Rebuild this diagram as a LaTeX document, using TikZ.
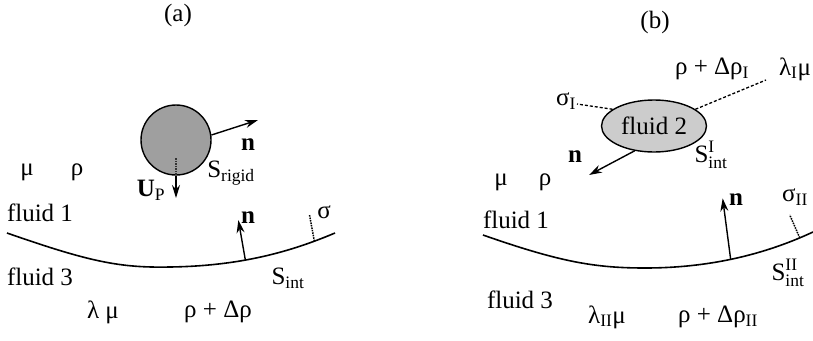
\documentclass[tikz,border=0pt]{standalone}
\usepackage{amsmath}
\usepackage{fontspec}
\setmainfont{Liberation Serif}
\usetikzlibrary{arrows.meta, shapes.geometric}

\newcommand{\sint}[1]{\(\text{S}^{\text{#1}}_{\text{int}}\)}

\begin{document}
\begin{tikzpicture}[
    x=1pt, y=-1pt,
    every node/.style={font=\fontsize{25}{29}\selectfont, inner sep=0pt},
    iface/.style={line width=1.6pt},
    arrow/.style={-{Stealth[length=13pt, width=8pt]}, line width=1.4pt},
    tick/.style={densely dotted, line width=1.5pt},
    link/.style={densely dashed, line width=1.3pt},
    particle/.style={circle, draw, line width=1.4pt, fill=gray!75, minimum size=70pt},
    drop/.style={ellipse, draw, line width=1.4pt, fill=gray!40, minimum width=105pt, minimum height=52pt}
]

\useasboundingbox (0,0) rectangle (813,340);

% ============ PANEL (a): rigid particle ============
\node (tita) at (178,15) {(a)};
\node[particle] (rigid) at (176,140) {};

% normal on particle
\coordinate (nrtip) at (258,120);
\draw[arrow] (rigid.8) -- (nrtip);
\node (nr) at (248,145) {\textbf{n}};

% particle velocity
\coordinate (upa) at (176,158);
\coordinate (uptip) at (176,198);
\draw[tick, white!20!black] (upa) -- (rigid.south);
\draw[arrow] (rigid.south) -- (uptip);
\node (up) at (151,190) {\textbf{U}\textsubscript{P}};
\node (srig) at (231,173) {S\textsubscript{rigid}};

% fluid 1 properties
\node (mua) at (27,172) {μ};
\node (rhoa) at (77,172) {ρ};
\node (f1a) at (40,213) {fluid 1};

% interface
\draw[iface] (7,233) .. controls (90,262) and (120,268) .. (170,267)
    .. controls (240,266) and (290,252) .. (335,233)
    coordinate[pos=0.4] (nia) coordinate[pos=0.85] (sga);
\path (nia) ++(-7,-40) coordinate (niatip);
\draw[arrow] (nia) -- (niatip);
\node (nna) at (248,218) {\textbf{n}};
\path (sga) ++(-5,-27) coordinate (sgatop);
\draw[tick] (sga) -- (sgatop);
\node (siga) at (324,212) {σ};
\node (sinta) at (288,278) {S\textsubscript{int}};

% fluid 3 properties
\node (f3a) at (40,277) {fluid 3};
\node (lama) at (103,312) {λ μ};
\node (drha) at (218,312) {ρ + Δρ};

% ============ PANEL (b): drop ============
\node (titb) at (655,22) {(b)};
\node[drop] (fl2) at (654,126) {fluid 2};

% drop labels
\coordinate (sgI) at (577,104);
\draw[link] (fl2.158) -- (sgI);
\node (sigI) at (566,101) {σ\textsubscript{I}};
\coordinate (prI) at (766,80);
\draw[link] (fl2.22) -- (prI);
\node (drhI) at (712,69) {ρ + Δρ\textsubscript{I}};
\node (lamI) at (795,69) {λ\textsubscript{I}μ};
\node (sintI) at (711,155) {\sint{I}};

% normal on drop
\coordinate (ndtip) at (589,175);
\draw[arrow] (fl2.232) -- (ndtip);
\node (nd) at (575,157) {\textbf{n}};

% fluid 1 properties
\node (mub) at (501,182) {μ};
\node (rhob) at (545,182) {ρ};
\node (f1b) at (516,220) {fluid 1};

% interface
\draw[iface] (483,235) .. controls (560,262) and (595,268) .. (645,268)
    .. controls (715,268) and (770,252) .. (813,232)
    coordinate[pos=0.45] (nib) coordinate[pos=0.9] (sgb);
\path (nib) ++(-8,-61) coordinate (nibtip);
\draw[arrow] (nib) -- (nibtip);
\node (nnb) at (736,200) {\textbf{n}};
\path (sgb) ++(-10,-23) coordinate (sgbtop);
\draw[tick] (sgb) -- (sgbtop);
\node (sigII) at (795,197) {σ\textsubscript{II}};
\node (sintII) at (788,273) {\sint{II}};

% fluid 3 properties
\node (f3b) at (520,300) {fluid 3};
\node (lamII) at (607,317) {λ\textsubscript{II}μ};
\node (drhII) at (718,317) {ρ + Δρ\textsubscript{II}};

\end{tikzpicture}
\end{document}
